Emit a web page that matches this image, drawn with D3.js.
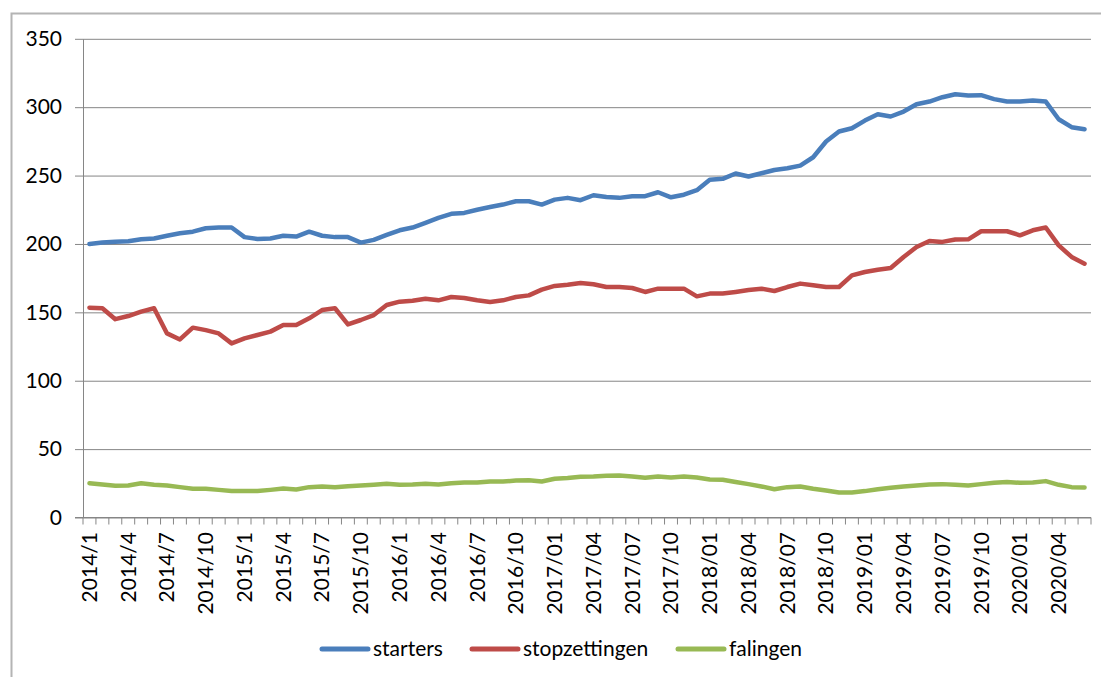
<html>
  <head>
    <title>starters, stopzettingen, falingen</title>
    <meta charset="utf-8" />
    <script src="https://cdnjs.cloudflare.com/ajax/libs/d3/7.6.1/d3.min.js"></script>
    <style>
      body {
        margin: 0;
        background: #ffffff;
      }
      svg {
        width: 1101px;
        height: 677px;
        display: block;
        font-family: Lato, sans-serif;
      }
    </style>
  </head>
  <body>
    <div id="viz">
      <svg></svg>
    </div>
  </body>

  <script>
    let months = [
      "2014/1", "2014/2", "2014/3", "2014/4", "2014/5", "2014/6", "2014/7", "2014/8", "2014/9", "2014/10", "2014/11", "2014/12",
      "2015/1", "2015/2", "2015/3", "2015/4", "2015/5", "2015/6", "2015/7", "2015/8", "2015/9", "2015/10", "2015/11", "2015/12",
      "2016/1", "2016/2", "2016/3", "2016/4", "2016/5", "2016/6", "2016/7", "2016/8", "2016/9", "2016/10", "2016/11", "2016/12",
      "2017/01", "2017/02", "2017/03", "2017/04", "2017/05", "2017/06", "2017/07", "2017/08", "2017/09", "2017/10", "2017/11", "2017/12",
      "2018/01", "2018/02", "2018/03", "2018/04", "2018/05", "2018/06", "2018/07", "2018/08", "2018/09", "2018/10", "2018/11", "2018/12",
      "2019/01", "2019/02", "2019/03", "2019/04", "2019/05", "2019/06", "2019/07", "2019/08", "2019/09", "2019/10", "2019/11", "2019/12",
      "2020/01", "2020/02", "2020/03", "2020/04", "2020/05", "2020/06"
    ];

    let starters = [
      200, 201, 201.7, 202, 203.4, 204, 206, 207.8, 209, 211.5, 212, 212, 205, 203.7, 204, 206, 205.4, 209, 206, 205, 205, 201, 203, 206.6, 210, 212,
      215.4, 219, 222, 222.7, 225, 227, 228.8, 231.2, 231.2, 228.8, 232.4, 233.7, 232, 235.6, 234.4, 233.7, 234.9, 234.9, 237.8, 234.1, 236, 239.3, 247, 247.6, 251.5, 249.3,
      251.7, 254.1, 255.4, 257.3, 263.4, 274.9, 282.2, 284.6, 290.2, 294.9, 293.2, 296.8, 302.2, 304.1, 307.3, 309.5, 308.5, 308.8, 305.9, 304.1, 304.1, 304.9, 304.1, 291.2, 285.4, 283.9
    ];

    let stopzettingen = [
      153.4, 153, 145, 147.3, 150.5, 153, 134.6, 130.2, 138.8, 137, 134.6, 127.3, 131, 133.4, 135.9, 140.7, 140.7, 145.6, 151.7, 153, 141.2, 144.4, 148, 155.4, 157.8, 158.5,
      160, 158.8, 161.2, 160.5, 158.8, 157.6, 158.8, 161.2, 162.4, 166.6, 169.3, 170.2, 171.5, 170.5, 168.5, 168.5, 167.8, 164.9, 167.3, 167.3, 167.3, 161.7, 163.7, 163.7, 164.9, 166.3,
      167.3, 165.6, 168.5, 171, 169.8, 168.5, 168.5, 177, 179.5, 181.2, 182.4, 190.5, 197.8, 202.2, 201.5, 203.2, 203.4, 209.3, 209.3, 209.3, 206.3, 210, 212, 199, 190.5, 185.6
    ];

    let falingen = [
      25.1, 24.1, 23.2, 23.4, 25.1, 23.9, 23.4, 22.2, 21, 21, 20.2, 19.3, 19.3, 19.3, 20.2, 21.2, 20.5, 22.2, 22.7, 22.2,
      22.9, 23.4, 23.9, 24.6, 23.9, 24.1, 24.6, 24.1, 25.1, 25.6, 25.6, 26.3, 26.3, 27, 27.3, 26.3, 28.3, 28.8, 29.8,
      30, 30.5, 30.7, 30, 29, 30, 29.3, 30, 29.3, 27.8, 27.6, 25.9, 24.4, 22.7, 20.7, 22.2, 22.7, 21, 19.8, 18.3,
      18.3, 19.3, 20.7, 21.7, 22.7, 23.4, 24.1, 24.4, 23.9, 23.4, 24.4, 25.4, 25.9, 25.4, 25.6, 26.6, 23.9, 22.2, 22
    ];

    let seriesNames = ["starters", "stopzettingen", "falingen"];
    let yTicks = [0, 50, 100, 150, 200, 250, 300, 350];

    let colorScale = d3.scaleOrdinal().domain(seriesNames).range(["#4a7ebb", "#be4b48", "#98b954"]);
    let seriesData = [starters, stopzettingen, falingen];

    let svg = d3.select("svg");

    // outer chart frame (runs off the right and bottom of the picture)
    svg
      .append("rect")
      .attr("x", 11.5)
      .attr("y", 13.5)
      .attr("width", 1200)
      .attr("height", 800)
      .style("fill", "none")
      .style("stroke", "#b4b4b4")
      .style("stroke-width", 2);

    let xScale = d3.scaleBand().domain(months).range([83, 1091]);
    let yScale = d3.scaleLinear().domain([0, 350]).range([517.5, 38.8]);

    // gridlines + y labels
    let yAxis = d3
      .axisLeft(yScale)
      .tickValues(yTicks)
      .tickSize(-(1091 - 83))
      .tickSizeOuter(0)
      .tickPadding(21);
    let yG = svg.append("g").attr("transform", "translate(83,0)").call(yAxis);
    yG.select(".domain").style("stroke", "#868686");
    yG.selectAll(".tick line").attr("x1", -8).style("stroke", "#868686");
    yG.selectAll(".tick text")
      .style("font-family", "Lato, sans-serif")
      .style("font-size", "21px")
      .style("fill", "#000");

    // x axis with a tick at every month boundary, a label every 3 months
    let boundaries = months.map((d) => xScale(d)).concat([xScale.range()[1]]);
    let xG = svg.append("g");
    xG.append("line")
      .attr("x1", 75)
      .attr("x2", 1091)
      .attr("y1", yScale(0))
      .attr("y2", yScale(0))
      .style("stroke", "#868686");
    xG.selectAll("line.tick")
      .data(boundaries)
      .enter()
      .append("line")
      .attr("class", "tick")
      .attr("x1", (d) => d)
      .attr("x2", (d) => d)
      .attr("y1", yScale(0))
      .attr("y2", yScale(0) + 7)
      .style("stroke", "#868686");
    xG.selectAll("text")
      .data(months.filter((d, i) => i % 3 == 0))
      .enter()
      .append("text")
      .attr("transform", (d) => `translate(${xScale(d) + xScale.bandwidth() / 2},532) rotate(-90)`)
      .attr("dy", "0.35em")
      .attr("text-anchor", "end")
      .style("font-size", "21px")
      .text((d) => d);

    let line = d3
      .line()
      .x((d, i) => xScale(months[i]) + xScale.bandwidth() / 2)
      .y((d) => yScale(d));

    svg
      .selectAll("path.series")
      .data(seriesData)
      .enter()
      .append("path")
      .attr("class", "series")
      .attr("d", (d) => line(d))
      .style("fill", "none")
      .style("stroke", (d, i) => colorScale(seriesNames[i]))
      .style("stroke-width", 4.5)
      .style("stroke-linejoin", "round")
      .style("stroke-linecap", "round");

    // legend
    let legendX = [322, 472, 678];
    let legend = svg
      .selectAll("g.legend")
      .data(seriesNames)
      .enter()
      .append("g")
      .attr("class", "legend")
      .attr("transform", (d, i) => `translate(${legendX[i]},649)`);
    legend
      .append("line")
      .attr("x1", 0)
      .attr("x2", 46)
      .style("stroke", (d) => colorScale(d))
      .style("stroke-width", 5)
      .style("stroke-linecap", "round");
    legend
      .append("text")
      .attr("x", 51)
      .attr("dy", "0.35em")
      .style("font-size", "21px")
      .text((d) => d);
  </script>
</html>
